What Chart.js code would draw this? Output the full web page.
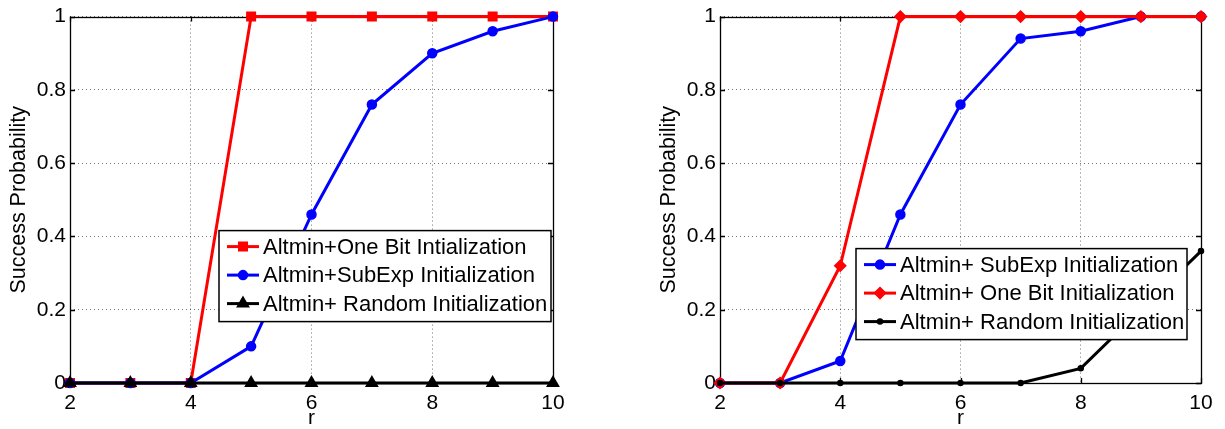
<!DOCTYPE html>
<html>
<head>
<meta charset="utf-8">
<script src="https://cdn.jsdelivr.net/npm/chart.js@4/dist/chart.umd.min.js"></script>
<style>
  body { margin: 0; background: #fff; }
  #wrap { position: relative; width: 1225px; height: 429px; }
  .box { position: absolute; top: 0; height: 429px; }
</style>
</head>
<body>
<div id="wrap">
  <div class="box" style="left:0; width:600px"><canvas id="leftChart"></canvas></div>
  <div class="box" style="left:612px; width:613px"><canvas id="rightChart"></canvas></div>
</div>
<script>
// data
var rValues = [2, 3, 4, 5, 6, 7, 8, 9, 10];

// left plot
var leftOneBit  = [0, 0, 0, 1, 1, 1, 1, 1, 1];
var leftSubExp  = [0, 0, 0, 0.1, 0.46, 0.76, 0.9, 0.96, 1];
var leftRandom  = [0, 0, 0, 0, 0, 0, 0, 0, 0];

// right plot
var rightSubExp = [0, 0, 0.06, 0.46, 0.76, 0.94, 0.96, 1, 1];
var rightOneBit = [0, 0, 0.32, 1, 1, 1, 1, 1, 1];
var rightRandom = [0, 0, 0, 0, 0, 0, 0.04, 0.2, 0.36];

var xTicks = [2, 4, 6, 8, 10];
var yTicks = [0, 0.2, 0.4, 0.6, 0.8, 1];

var FONT = "'Liberation Sans', Arial, Helvetica, sans-serif";

function pts(ys) {
  return ys.map(function(y, i) { return {x: rValues[i], y: y}; });
}

function marker(ctx, style, x, y, r, color) {
  ctx.save();
  ctx.fillStyle = color;
  ctx.strokeStyle = color;
  ctx.lineWidth = 1.5;
  ctx.beginPath();
  if (style == 'rect') {
    var s = r * Math.SQRT1_2;
    ctx.rect(x - s, y - s, 2 * s, 2 * s);
  } else if (style == 'triangle') {
    ctx.moveTo(x, y - r);
    ctx.lineTo(x + r * 0.866, y + r * 0.5);
    ctx.lineTo(x - r * 0.866, y + r * 0.5);
    ctx.closePath();
  } else if (style == 'rectRot') {
    ctx.moveTo(x, y - r);
    ctx.lineTo(x + r, y);
    ctx.lineTo(x, y + r);
    ctx.lineTo(x - r, y);
    ctx.closePath();
  } else {
    ctx.arc(x, y, r, 0, Math.PI * 2);
  }
  ctx.fill();
  ctx.stroke();
  ctx.restore();
}

// frame, inward ticks and legend box in matlab style
var matlabBox = {
  id: 'matlabBox',
  beforeDatasetsDraw: function(chart) {
    var ctx = chart.ctx, a = chart.chartArea;
    var xs = chart.scales.x, ys = chart.scales.y;
    ctx.save();
    ctx.strokeStyle = '#000';
    ctx.lineWidth = 1.3;
    ctx.strokeRect(Math.round(a.left) + 0.5, Math.round(a.top) + 0.5,
                   Math.round(a.right - a.left), Math.round(a.bottom - a.top));
    ctx.beginPath();
    xTicks.forEach(function(v) {
      var px = Math.round(xs.getPixelForValue(v)) + 0.5;
      ctx.moveTo(px, a.bottom); ctx.lineTo(px, a.bottom - 5);
      ctx.moveTo(px, a.top); ctx.lineTo(px, a.top + 5);
    });
    yTicks.forEach(function(v) {
      var py = Math.round(ys.getPixelForValue(v)) + 0.5;
      ctx.moveTo(a.left, py); ctx.lineTo(a.left + 5, py);
      ctx.moveTo(a.right, py); ctx.lineTo(a.right - 5, py);
    });
    ctx.stroke();
    ctx.restore();
  },
  afterDatasetsDraw: function(chart, args, opts) {
    var ctx = chart.ctx, a = chart.chartArea;
    ctx.save();
    var bx = a.left + opts.x, by = a.top + opts.y;
    ctx.fillStyle = '#fff';
    ctx.fillRect(bx, by, opts.w, opts.h);
    ctx.strokeStyle = '#000';
    ctx.lineWidth = 1.5;
    ctx.strokeRect(bx, by, opts.w, opts.h);
    ctx.font = '22px ' + FONT;
    ctx.textBaseline = 'middle';
    chart.data.datasets.forEach(function(ds, i) {
      var ry = by + 16 + i * 28.5;
      var lx = bx + 8;
      ctx.strokeStyle = ds.borderColor;
      ctx.lineWidth = 3;
      ctx.beginPath();
      ctx.moveTo(lx, ry); ctx.lineTo(lx + 32, ry);
      ctx.stroke();
      marker(ctx, ds.pointStyle, lx + 16, ry, ds.pointRadius, ds.borderColor);
      ctx.fillStyle = '#000';
      ctx.fillText(ds.label, lx + 36, ry + 1);
    });
    ctx.restore();
  }
};

function makeOptions(pad, legendPos) {
  return {
    responsive: false,
    animation: false,
    layout: { padding: pad },
    plugins: {
      legend: { display: false },
      tooltip: { enabled: false },
      matlabBox: legendPos
    },
    scales: {
      x: {
        type: 'linear', min: 2, max: 10,
        afterBuildTicks: function(s) { s.ticks = xTicks.map(function(v) { return {value: v}; }); },
        afterFit: function(s) { s.height = 46; },
        grid: { color: 'rgba(0,0,0,0.55)', lineWidth: 1, drawTicks: false },
        border: { display: false, dash: [1, 3] },
        ticks: { color: '#000', font: { size: 21, family: FONT }, padding: 8, callback: function(v) { return String(v); } },
        title: { display: true, text: 'r', color: '#000', font: { size: 21, family: FONT, lineHeight: 1 }, padding: { top: 0, bottom: 0 } }
      },
      y: {
        min: 0, max: 1,
        afterBuildTicks: function(s) { s.ticks = yTicks.map(function(v) { return {value: v}; }); },
        afterFit: function(s) { s.width = 70; },
        grid: { color: 'rgba(0,0,0,0.55)', lineWidth: 1, drawTicks: false },
        border: { display: false, dash: [1, 3] },
        ticks: { color: '#000', font: { size: 21, family: FONT }, padding: 4, callback: function(v) { return String(v); } },
        title: { display: true, text: 'Success Probability', color: '#000', font: { size: 21.5, family: FONT, lineHeight: 1 }, padding: { top: 8, bottom: 0 } }
      }
    }
  };
}

function line(label, ys, color, style, radius, order) {
  return {
    label: label,
    data: pts(ys),
    borderColor: color,
    backgroundColor: color,
    borderWidth: 3,
    pointStyle: style,
    pointRadius: radius,
    pointBorderWidth: 1.5,
    tension: 0,
    clip: false,
    order: order
  };
}

var leftCanvas = document.getElementById('leftChart');
leftCanvas.width = 600; leftCanvas.height = 429;
new Chart(leftCanvas, {
  type: 'line',
  data: {
    datasets: [
      line('Altmin+One Bit Intialization', leftOneBit, '#ff0000', 'rect', 6, 3),
      line('Altmin+SubExp Initialization', leftSubExp, '#0000ff', 'circle', 4.5, 2),
      line('Altmin+ Random Initialization', leftRandom, '#000000', 'triangle', 6.5, 1)
    ]
  },
  options: makeOptions({ left: 0, right: 47, top: 15, bottom: 0 }, { x: 149, y: 214, w: 332, h: 91 }),
  plugins: [matlabBox]
});

var rightCanvas = document.getElementById('rightChart');
rightCanvas.width = 613; rightCanvas.height = 429;
new Chart(rightCanvas, {
  type: 'line',
  data: {
    datasets: [
      line('Altmin+ SubExp Initialization', rightSubExp, '#0000ff', 'circle', 4.5, 3),
      line('Altmin+ One Bit Initialization', rightOneBit, '#ff0000', 'rectRot', 5.5, 2),
      line('Altmin+ Random Initialization', rightRandom, '#000000', 'circle', 2.5, 1)
    ]
  },
  options: makeOptions({ left: 38, right: 24, top: 15, bottom: 0 }, { x: 136, y: 232, w: 331, h: 91 }),
  plugins: [matlabBox]
});
</script>
</body>
</html>
